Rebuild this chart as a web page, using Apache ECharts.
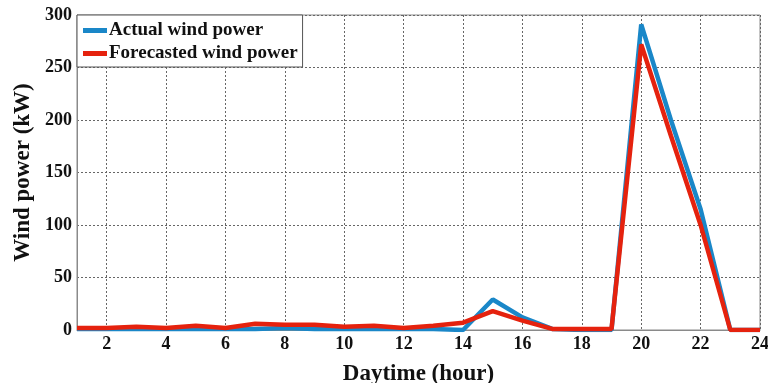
<!DOCTYPE html>
<html><head><meta charset="utf-8">
<script src="https://cdn.jsdelivr.net/npm/echarts@6/dist/echarts.min.js"></script>
<style>html,body{margin:0;padding:0;background:#fff}#c{width:768px;height:383px}</style>
</head><body><div id="c"></div>
<script>
var hours = [1,2,3,4,5,6,7,8,9,10,11,12,13,14,15,16,17,18,19,20,21,22,23,24];
var actual = [1,1,1,1,1,1,1,2,1,1,1,1,1,0,29,12,1,0,0,291,200,115,0,0];
var forecast = [2,2,3,2,4,2,6,5,5,3,4,2,4,7,18,9,1,1,1,272,185,100,0,0];
var yTicks = {min:0, max:300, interval:50};
var FONT = '"Liberation Serif","Times New Roman",serif';
var chart = echarts.init(document.getElementById('c'));
var evenFn = function(i){ return (i+1) % 2 === 0; };
chart.setOption({
  animation:false,
  grid:{left:77,right:8,top:15,bottom:53,show:true,borderColor:'#8a8a8a',borderWidth:1,containLabel:false,outerBoundsMode:'none'},
  legend:{
    orient:'vertical', left:77, top:15, itemWidth:24, itemHeight:5, itemGap:4, icon:'rect',
    padding:[6,5,4,6], borderColor:'#555', borderWidth:1, backgroundColor:'#fff',
    textStyle:{fontFamily:FONT,fontWeight:'bold',fontSize:19,color:'#111',padding:[0,0,0,-3]},
    data:['Actual wind power','Forecasted wind power']
  },
  xAxis:{
    type:'category', data:hours, boundaryGap:false,
    name:'Daytime (hour)', nameLocation:'middle', nameGap:33,
    nameTextStyle:{fontFamily:FONT,fontWeight:'bold',fontSize:23,color:'#111'},
    axisLine:{lineStyle:{color:'#8a8a8a'}},
    axisTick:{show:false},
    axisLabel:{interval:evenFn,fontFamily:FONT,fontWeight:'bold',fontSize:18,color:'#111',margin:5},
    splitLine:{show:true,interval:evenFn,lineStyle:{type:[2,2],color:'#666',width:1}}
  },
  yAxis:{
    type:'value', min:yTicks.min, max:yTicks.max, interval:yTicks.interval,
    name:'Wind power (kW)', nameLocation:'middle', nameGap:41,
    nameTextStyle:{fontFamily:FONT,fontWeight:'bold',fontSize:23,color:'#111'},
    axisLine:{show:true,lineStyle:{color:'#8a8a8a'}},
    axisTick:{show:false},
    axisLabel:{fontFamily:FONT,fontWeight:'bold',fontSize:18,color:'#111',margin:5},
    splitLine:{show:true,lineStyle:{type:[2,2],color:'#666',width:1}}
  },
  series:[
    {name:'Actual wind power',type:'line',data:actual,symbol:'none',lineStyle:{width:4.5,color:'#1a87c8'},itemStyle:{color:'#1a87c8'}},
    {name:'Forecasted wind power',type:'line',data:forecast,symbol:'none',lineStyle:{width:4.5,color:'#e5220e'},itemStyle:{color:'#e5220e'}}
  ]
});
</script></body></html>
